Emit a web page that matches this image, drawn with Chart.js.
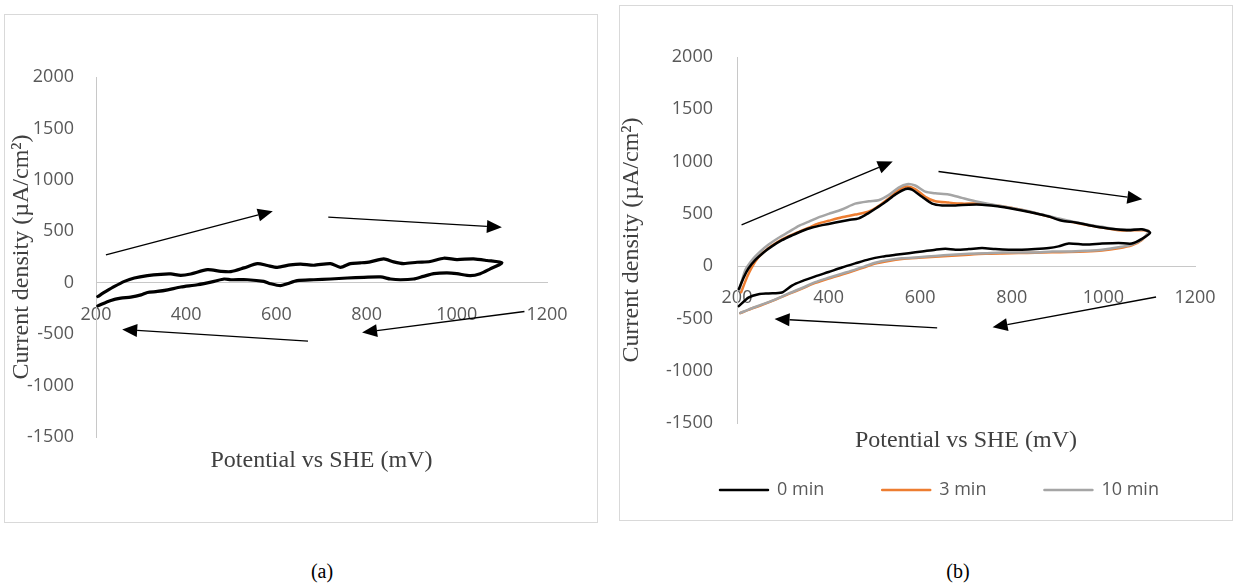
<!DOCTYPE html>
<html>
<head>
<meta charset="utf-8">
<title>Cyclic voltammograms</title>
<script src="https://cdn.jsdelivr.net/npm/chart.js@4.4.1/dist/chart.umd.min.js"></script>
<style>
  body { margin: 0; background: #fff; width: 1239px; height: 585px; position: relative; overflow: hidden; }
  .panel { position: absolute; border: 1px solid #d9d9d9; box-sizing: border-box; }
  .wrap { position: absolute; }
  .caption { position: absolute; font-family: "Liberation Serif", serif; font-size: 20px; color: #000; transform: translate(-50%, -50%); }
</style>
</head>
<body>
<div class="panel" style="left:4px;top:14px;width:594px;height:509px"></div>
<div class="wrap" style="left:4px;top:14px;width:593px;height:508px"><canvas id="chartA"></canvas></div>
<div class="panel" style="left:619px;top:5px;width:614px;height:516px"></div>
<div class="wrap" style="left:619px;top:5px;width:613px;height:515px"><canvas id="chartB"></canvas></div>
<div class="caption" style="left:322px;top:571px">(a)</div>
<div class="caption" style="left:958px;top:571px">(b)</div>
<script>
// panel (a): single sweep, forward then reverse
const sweepA_fwdE = [204,222,241,263,285,314,344,366,388,410,447,477,499,528,558,580,602,631,654,683,720,742,764,786,808,838,860,882,912,941,971,1000,1037,1067,1100];
const sweepA_fwdI = [-134,-85,-36,13,46,69,82,85,72,85,127,111,108,144,186,167,150,173,180,170,186,150,186,193,203,232,203,186,199,206,238,225,232,216,193];
const sweepA_revE = [1074,1052,1030,1000,978,949,926,904,875,853,831,794,757,720,683,646,624,609,587,572,536,499,484,462,425,388,359,336,314,300,277,255,233,204];
const sweepA_revI = [134,88,69,88,95,88,62,36,29,36,56,52,46,36,29,20,-10,-29,-10,13,29,29,36,13,-20,-42,-69,-85,-95,-118,-140,-150,-173,-225];

// panel (b): 0 min
const min0_fwdE = [204,215,225,240,258,276,298,320,342,364,386,415,444,466,488,502,524,546,568,582,604,626,648,677,706,735,764,793,822,851,881,910,939,968,997,1026,1055,1084,1102];
const min0_fwdI = [-219,-105,-23,59,131,189,248,294,336,369,392,418,441,457,510,549,614,686,738,732,663,598,581,581,588,588,575,555,532,506,474,434,418,392,369,353,343,353,320];
const min0_revE = [1084,1062,1033,997,961,924,902,881,851,822,793,764,735,706,677,655,633,604,575,546,517,488,458,429,400,371,342,320,298,269,247,225,204];
const min0_revI = [261,216,222,216,206,216,189,173,163,157,157,163,173,163,157,166,157,140,124,108,91,65,26,-13,-56,-98,-144,-186,-252,-261,-268,-301,-382];

// 3 min
const min3_fwdE = [209,222,233,247,269,291,313,335,357,378,400,429,458,488,509,531,553,571,589,611,633,662,691,720,750,779,808,837,866,895,924,961,997,1033,1070,1099];
const min3_fwdI = [-250,-105,-7,85,173,238,287,327,369,408,434,467,493,523,575,647,728,761,738,663,621,608,598,598,588,572,549,523,490,457,428,395,369,343,343,336];
const min3_revE = [1084,1062,1033,997,961,924,888,851,815,779,742,706,669,633,597,560,531,502,480,458,429,400,371,342,313,284,255,225,207];
const min3_revI = [250,200,172,150,140,135,132,128,125,122,118,110,100,90,80,68,50,25,-8,-40,-80,-118,-160,-214,-266,-320,-370,-418,-450];

// 10 min
const min10_fwdE = [205,218,233,251,269,291,313,335,357,378,400,429,458,488,509,531,553,571,589,611,633,662,691,720,750,779,808,837,866,895,924,961,997,1033,1070,1099];
const min10_fwdI = [-230,-39,59,140,206,271,327,385,425,467,500,542,598,621,630,679,751,784,771,712,696,686,653,621,594,572,549,526,493,464,434,402,376,353,353,336];
const min10_revE = [1084,1062,1033,997,961,924,888,851,815,779,742,706,669,633,597,560,531,502,480,458,429,400,371,342,313,284,255,225,207];
const min10_revI = [255,206,180,157,147,140,140,131,131,131,124,118,108,98,85,75,59,33,0,-33,-72,-111,-153,-209,-261,-317,-366,-415,-448];

// sweep direction arrows [E start, I start, E end, I end]
const arrowsA = [[222,270,592,696],[715,637,1100,539],[670,-568,258,-455],[1150,-280,790,-485]];
const arrowsB = [[210,395,540,1000],[640,905,1085,640],[637,-590,282,-505],[1115,-295,758,-585]];

const tickFont = {family: 'Open Sans', size: 18};
const titleFont = {family: 'Liberation Serif', size: 24};
const tickColor = '#595959';
const titleColor = '#404040';
const axisColor = '#c8c8c8';

function toPoints(fE, fI, rE, rI) {
    const pts = [];
    fE.forEach((e, i) => pts.push({x: e, y: fI[i]}));
    rE.forEach((e, i) => pts.push({x: e, y: rI[i]}));
    return pts;
}

function arrowPlugin(list) {
    return {
        id: 'sweepArrows',
        afterDatasetsDraw(chart) {
            const {ctx, scales: {x, y}} = chart;
            ctx.save();
            ctx.strokeStyle = '#000';
            ctx.fillStyle = '#000';
            ctx.lineWidth = 1.3;
            list.forEach(a => {
                const x1 = x.getPixelForValue(a[0]), y1 = y.getPixelForValue(a[1]);
                const x2 = x.getPixelForValue(a[2]), y2 = y.getPixelForValue(a[3]);
                const ang = Math.atan2(y2 - y1, x2 - x1);
                const len = 15, half = 6.5;
                const bx = x2 - len * Math.cos(ang), by = y2 - len * Math.sin(ang);
                ctx.beginPath();
                ctx.moveTo(x1, y1);
                ctx.lineTo(bx, by);
                ctx.stroke();
                ctx.beginPath();
                ctx.moveTo(x2, y2);
                ctx.lineTo(bx + half * Math.sin(ang), by - half * Math.cos(ang));
                ctx.lineTo(bx - half * Math.sin(ang), by + half * Math.cos(ang));
                ctx.closePath();
                ctx.fill();
            });
            ctx.restore();
        }
    };
}

function sweepDataset(label, color, width, order, pts) {
    return {
        label: label,
        data: pts,
        showLine: true,
        borderColor: color,
        backgroundColor: color,
        borderWidth: width,
        pointRadius: 0,
        tension: 0.25,
        borderCapStyle: 'round',
        borderJoinStyle: 'round',
        order: order,
        xAxisID: 'x',
        yAxisID: 'y'
    };
}

function buildScales(cfg) {
    return {
        x: {
            type: 'linear',
            position: {y: 0},
            min: 200, max: 1200,
            ticks: {stepSize: 200, padding: 21, color: tickColor, font: tickFont, maxRotation: 0, autoSkip: false, callback: v => String(v)},
            grid: {display: false, drawTicks: false},
            border: {display: true, color: axisColor, width: 1},
            title: {display: true, text: 'Potential vs SHE (mV)', color: titleColor, font: titleFont, padding: 0},
            // title sits below the zero line; this box takes no layout space
            afterFit: s => { s.height = cfg.xTitleDrop; if (cfg.xPadRight) s.paddingRight = cfg.xPadRight; }
        },
        y: {
            type: 'linear',
            position: 'left',
            min: -1500, max: 2000,
            ticks: {stepSize: 500, padding: cfg.yTickPad, color: tickColor, font: tickFont, callback: v => String(v)},
            grid: {display: false, drawTicks: false},
            border: {display: true, color: axisColor, width: 1},
            title: {display: true, text: 'Current density (µA/cm²)', color: titleColor, font: titleFont, padding: {top: cfg.yTitleTop, bottom: 0}},
            afterFit: s => { s.width = cfg.yWidth; }
        }
    };
}

new Chart(document.getElementById('chartA'), {
    type: 'scatter',
    data: {
        datasets: [sweepDataset('sweep', '#000000', 3.2, 0, toPoints(sweepA_fwdE, sweepA_fwdI, sweepA_revE, sweepA_revI))]
    },
    options: {
        responsive: true,
        maintainAspectRatio: false,
        animation: false,
        layout: {padding: {left: 0, top: 63, right: 50, bottom: 85}},
        plugins: {legend: {display: false}, tooltip: {enabled: false}},
        scales: buildScales({xTitleDrop: 192.7, yTickPad: 22, yTitleTop: 3.6, yWidth: 92})
    },
    plugins: [arrowPlugin(arrowsA)]
});

new Chart(document.getElementById('chartB'), {
    type: 'scatter',
    data: {
        datasets: [
            sweepDataset('0 min', '#000000', 2.5, 0, toPoints(min0_fwdE, min0_fwdI, min0_revE, min0_revI)),
            sweepDataset('3 min', '#ED7D31', 2.5, 2, toPoints(min3_fwdE, min3_fwdI, min3_revE, min3_revI)),
            sweepDataset('10 min', '#A5A5A5', 2.5, 1, toPoints(min10_fwdE, min10_fwdI, min10_revE, min10_revI))
        ]
    },
    options: {
        responsive: true,
        maintainAspectRatio: false,
        animation: false,
        layout: {padding: {left: 43, top: 52, right: 0, bottom: 11}},
        plugins: {
            legend: {
                display: true,
                position: 'bottom',
                align: 'start',
                labels: {
                    boxWidth: 48, boxHeight: 0, padding: 58, color: tickColor, font: tickFont,
                    sort: (a, b) => a.datasetIndex - b.datasetIndex
                }
            },
            tooltip: {enabled: false}
        },
        scales: buildScales({xTitleDrop: 189.4, yTickPad: 24, yTitleTop: -44.4, yWidth: 75, xPadRight: 37})
    },
    plugins: [arrowPlugin(arrowsB)]
});
</script>
</body>
</html>
